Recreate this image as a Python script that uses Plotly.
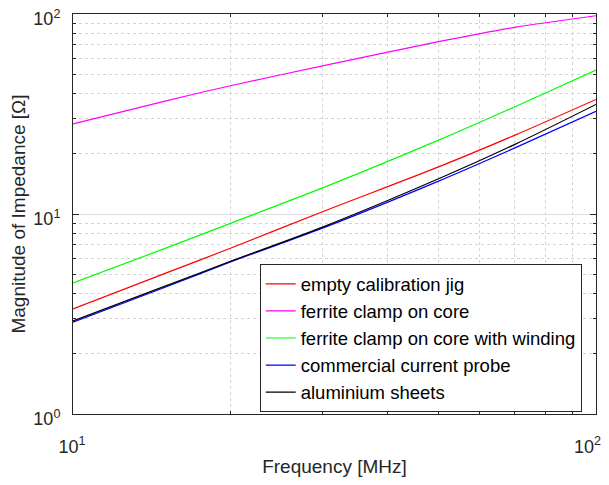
import plotly.graph_objects as go

freq = [10, 15, 20, 30, 50, 70, 100]
empty_jig = [3.35, 5.05, 6.74, 10.27, 17.2, 24.8, 37.4]
ferrite_core = [28.2, 36.7, 43.8, 55.0, 72.7, 85.8, 98.0]
ferrite_winding = [4.52, 6.73, 8.98, 13.5, 23.4, 34.4, 52.5]
current_probe = [2.88, 4.30, 5.76, 8.5, 14.6, 21.4, 32.6]
alu_sheets = [2.92, 4.36, 5.80, 8.6, 15.0, 22.3, 35.3]

x_ticks = [10, 100]
x_ticktext = ["10<sup>1</sup>", "10<sup>2</sup>\u00a0\u00a0\u00a0"]
x_minor = [20, 30, 40, 50, 60, 70, 80, 90]
y_ticks = [1, 10, 100]
y_ticktext = ["10<sup>0</sup>", "10<sup>1</sup>", "10<sup>2</sup>"]
y_minor = [2, 3, 4, 5, 6, 7, 8, 9, 20, 30, 40, 50, 60, 70, 80, 90]

series = [
    ("empty calibration jig", empty_jig, "#ff0000"),
    ("ferrite clamp on core", ferrite_core, "#ff00ff"),
    ("ferrite clamp on core with winding", ferrite_winding, "#00ff00"),
    ("commercial current probe", current_probe, "#0000ff"),
    ("aluminium sheets", alu_sheets, "#000000"),
]

fig = go.Figure()
for i, (name, vals, col) in enumerate(series):
    fig.add_trace(go.Scatter(x=freq, y=vals, mode="lines", name=name,
                             line=dict(color=col, width=1.2, shape="spline", smoothing=0.8)))

FAM = "Liberation Sans, Arial, sans-serif"
tickfont = dict(family=FAM, size=18, color="#262626")
titlefont = dict(family=FAM, size=19, color="#262626")

axis_common = dict(
    type="log", showline=True, linecolor="#262626", linewidth=1, mirror="ticks",
    ticks="inside", ticklen=6, tickcolor="#262626",
    showgrid=True, gridcolor="#dcdcdc", gridwidth=1,
    zeroline=False, automargin=False, ticklabeloverflow="allow",
    tickfont=tickfont,
)

fig.update_xaxes(**axis_common, range=[1, 2], tickmode="array", tickvals=x_ticks,
                 ticktext=x_ticktext, ticklabelstandoff=16, ticklabelshift=-1,
                 minor=dict(tickmode="array", tickvals=x_minor, ticks="inside", ticklen=3,
                            tickcolor="#262626", showgrid=True,
                            gridcolor="#d4d4d4", griddash="dot", gridwidth=1),
                 title=dict(text="Frequency [MHz]", font=titlefont, standoff=4))
fig.update_yaxes(**axis_common, range=[0, 2], tickmode="array", tickvals=y_ticks,
                 ticktext=y_ticktext, ticklabelstandoff=8, ticklabelshift=5,
                 minor=dict(tickmode="array", tickvals=y_minor, ticks="inside", ticklen=3,
                            tickcolor="#262626", showgrid=True,
                            gridcolor="#d4d4d4", griddash="dot", gridwidth=1),
                 title=dict(text="Magnitude of Impedance [Ω]", font=titlefont, standoff=6))

fig.update_layout(
    width=601, height=477,
    margin=dict(l=65, r=13, t=6, b=71),
    paper_bgcolor="white", plot_bgcolor="white",
    showlegend=True,
    legend=dict(x=0.9727, y=0.004, xanchor="right", yanchor="bottom",
                bgcolor="white", bordercolor="#262626", borderwidth=1,
                font=dict(family=FAM, size=18.5, color="#000000"),
                itemwidth=30),
)

fig.write_html("out.html")
